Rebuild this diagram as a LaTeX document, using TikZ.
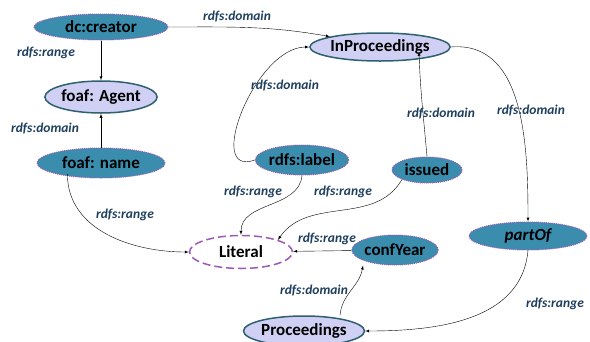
\documentclass[tikz,border=0pt]{standalone}
\usepackage{fontspec}
\setmainfont{Carlito}
\usetikzlibrary{shapes.geometric}
\definecolor{propfill}{HTML}{3A8DAD}
\definecolor{dotline}{HTML}{9B59B6}
\definecolor{classfill}{HTML}{D0D0F4}
\definecolor{classline}{HTML}{2F6070}
\definecolor{lblcol}{HTML}{1F3F5F}
\begin{document}
\begin{tikzpicture}[x=1pt,y=-1pt,>=latex,
    prop/.style={ellipse,fill=propfill,draw=dotline,densely dotted,line width=1pt,
      inner sep=0pt,font=\bfseries\fontsize{17}{19}\selectfont},
    cls/.style={ellipse,fill=classfill,draw=classline,line width=1.5pt,
      inner sep=0pt,font=\bfseries\fontsize{17}{19}\selectfont},
    lit/.style={ellipse,fill=white,draw=dotline,dash pattern=on 8pt off 4pt,line width=1.5pt,
      inner sep=0pt,font=\bfseries\fontsize{17}{19}\selectfont},
    lbl/.style={font=\bfseries\itshape\fontsize{13.5}{15}\selectfont,text=lblcol}]
  \useasboundingbox (0,0) rectangle (590,341);
  % classes and properties
  \node[prop,minimum width=134pt,minimum height=26pt] (creator) at (101,27) {dc:creator};
  \node[cls,minimum width=103pt,minimum height=32pt] (agent) at (101,97) {foaf: Agent};
  \node[prop,minimum width=128pt,minimum height=30pt] (name) at (101,163) {foaf: name};
  \node[cls,minimum width=136pt,minimum height=28pt] (inproc) at (380,47) {InProceedings};
  \node[prop,minimum width=89pt,minimum height=30pt] (label) at (302,160) {rdfs:label};
  \node[prop,minimum width=70pt,minimum height=26pt] (issued) at (427,170) {issued};
  \node[lit,minimum width=103pt,minimum height=33pt] (literal) at (241,252) {Literal};
  \node[prop,minimum width=86pt,minimum height=30pt] (confyear) at (395,250) {confYear};
  \node[prop,minimum width=118pt,minimum height=28pt] (partof) at (528,236) {\itshape partOf};
  \node[cls,minimum width=105pt,minimum height=30pt] (proc) at (304,331) {Proceedings};
  % edges
  \begin{scope}[->]
    \draw (creator.east) to[out=0,in=170] (inproc.north west);
    \draw (creator) to (agent);
    \draw (name) to (agent);
    \draw (label.west) to[out=200,in=180,looseness=1.1] (inproc.west);
    \draw (issued.north) to[out=95,in=-88] ([yshift=10pt]inproc.south -| 419,0);
    \draw (inproc.east) to[out=5,in=90] (partof.north);
    \draw (label.south) to[out=-95,in=90] (literal.north);
    \draw (issued.south west) to[out=-120,in=55] (literal.north east);
    \draw (name.south west) ++(12,0) to[out=-90,in=180] (literal.west);
    \draw (confyear) to (literal);
    \draw (proc.north) ++(36,0) to[out=85,in=-100] ([xshift=-32pt]confyear.south);
    \draw (partof.south) to[out=-95,in=0] (proc.east);
  \end{scope}
  % labels
  \node[lbl] (l1) at (237,17) {rdfs:domain};
  \node[lbl] (l2) at (46,53) {rdfs:range};
  \node[lbl] (l3) at (45,129) {rdfs:domain};
  \node[lbl] (l4) at (285,86) {rdfs:domain};
  \node[lbl] (l5) at (441,114) {rdfs:domain};
  \node[lbl] (l6) at (531,111) {rdfs:domain};
  \node[lbl] (l7) at (253,192) {rdfs:range};
  \node[lbl] (l8) at (343,192) {rdfs:range};
  \node[lbl] (l9) at (125,215) {rdfs:range};
  \node[lbl] (l10) at (327,239) {rdfs:range};
  \node[lbl] (l11) at (314,291) {rdfs:domain};
  \node[lbl] (l12) at (555,304) {rdfs:range};
\end{tikzpicture}
\end{document}
